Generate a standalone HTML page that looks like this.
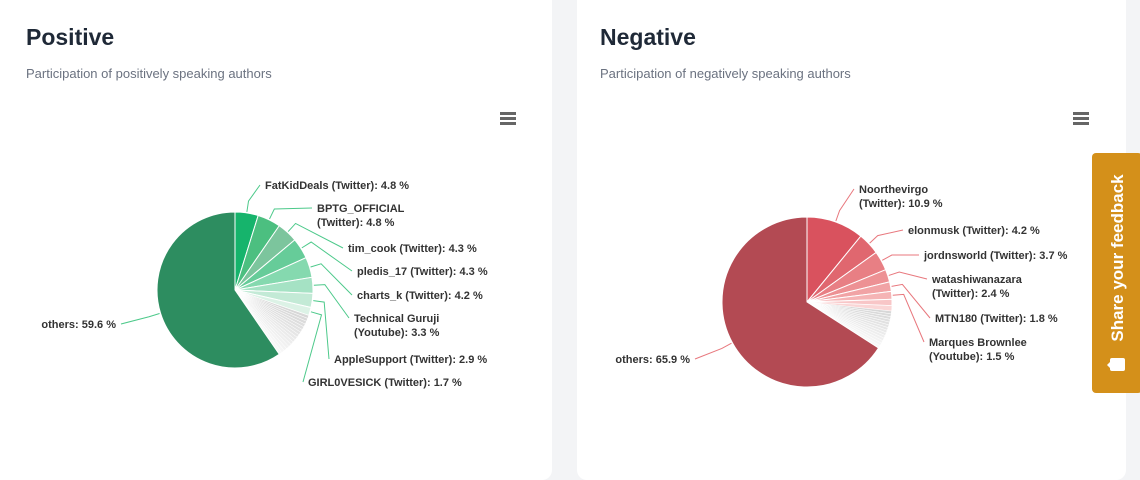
<!DOCTYPE html>
<html><head><meta charset="utf-8"><style>
body{margin:0;width:1140px;height:468px;background:#f3f4f6;font-family:"Liberation Sans",sans-serif;position:relative;overflow:hidden}
.card{position:absolute;top:-10px;height:490px;background:#fff;border-radius:10px}
.t{position:absolute;font-size:23px;font-weight:bold;color:#1f2937}
.s{position:absolute;font-size:13px;color:#6b7280}
.menu{position:absolute;width:16px;height:13px;border-top:3px solid #666;border-bottom:3px solid #666;box-sizing:border-box}
.menu:after{content:"";position:absolute;left:0;right:0;top:2px;border-top:3px solid #666}
svg{position:absolute;left:0;top:0}
svg text{font-family:"Liberation Sans",sans-serif;font-size:11px;font-weight:bold;fill:#333}
.fb{position:absolute;left:1092px;top:153px;width:50px;height:240px;background:#d4901a;border-radius:4px}
.fb span{position:absolute;left:26px;top:105px;transform:translate(-50%,-50%) rotate(-90deg);white-space:nowrap;color:#fff;font-weight:bold;font-size:17px}
.ic{position:absolute;left:1110px;top:358px;width:15px;height:13px;background:#fff;border-radius:2px}
.ic:after{content:"";position:absolute;left:-3px;top:4px;border:3px solid transparent;border-right-color:#fff;border-left:0}
</style></head><body>
<div class="card" style="left:-10px;width:562px"></div>
<div class="card" style="left:577px;width:549px"></div>
<div class="t" style="left:26px;top:24px">Positive</div>
<div class="s" style="left:26px;top:66px">Participation of positively speaking authors</div>
<div class="t" style="left:600px;top:24px">Negative</div>
<div class="s" style="left:600px;top:66px">Participation of negatively speaking authors</div>
<div class="menu" style="left:500px;top:112px"></div>
<div class="menu" style="left:1073px;top:112px"></div>
<svg id="sv" width="1140" height="468"></svg>
<div class="fb"><span>Share your feedback</span></div>
<div class="ic"></div>
<script>
const sv=document.getElementById('sv');const NS='http://www.w3.org/2000/svg';
function el(n,a,txt){const e=document.createElementNS(NS,n);for(const k in a)e.setAttribute(k,a[k]);if(txt)e.textContent=txt;sv.appendChild(e);return e;}
function pie(cx,cy,r,slices,lc){let a=0;const out=[];
slices.forEach(s=>{const a0=a,a1=a+s.v/100*2*Math.PI;a=a1;
const p=t=>[cx+r*Math.sin(t),cy-r*Math.cos(t)];const [x0,y0]=p(a0),[x1,y1]=p(a1);
el('path',{d:`M${cx},${cy}L${x0},${y0}A${r},${r} 0 ${a1-a0>Math.PI?1:0} 1 ${x1},${y1}Z`,fill:s.c,stroke:'#fff','stroke-width':s.v<1.2?0.5:1});
out.push((a0+a1)/2);});
slices.forEach((s,i)=>{if(!s.l)return;const m=out[i];const x=cx+(r+1)*Math.sin(m),y=cy-(r+1)*Math.cos(m);
const x2=cx+(r+12)*Math.sin(m),y2=cy-(r+12)*Math.cos(m);
const [lx,ly,anchor]=s.l;const ex=anchor==='end'?lx+5:lx-5;
el('path',{d:`M${x},${y}L${x2},${y2}L${ex},${ly}`,fill:'none',stroke:s.lc||lc,'stroke-width':1});
s.t.forEach((tt,j)=>el('text',{x:lx,y:ly+4+j*14,'text-anchor':anchor||'start'},tt));});}
function grays(n,tot,start){const a=[];for(let i=0;i<n;i++){const g=Math.round(start+i*(250-start)/n);a.push({v:tot/n,c:`rgb(${g},${g},${g})`});}return a;}
pie(235,290,78,[
{v:4.8,c:'#16b46c',l:[265,185],t:['FatKidDeals (Twitter): 4.8 %']},
{v:4.8,c:'#4cbf80',l:[317,208],t:['BPTG_OFFICIAL','(Twitter): 4.8 %']},
{v:4.3,c:'#7cc59d',l:[348,248],t:['tim_cook (Twitter): 4.3 %']},
{v:4.3,c:'#66cc99',l:[357,271],t:['pledis_17 (Twitter): 4.3 %']},
{v:4.2,c:'#85d9af',l:[357,295],t:['charts_k (Twitter): 4.2 %']},
{v:3.3,c:'#a5e2c4',l:[354,318],t:['Technical Guruji','(Youtube): 3.3 %']},
{v:2.9,c:'#c3ead6',l:[334,359],t:['AppleSupport (Twitter): 2.9 %']},
{v:1.7,c:'#dcf2e6',l:[308,382],t:['GIRL0VESICK (Twitter): 1.7 %']},
...grays(16,10.1,215),
{v:59.6,c:'#2d8d60',l:[116,324,'end'],t:['others: 59.6 %']}
],'#4cc98a');
pie(807,302,85,[
{v:10.9,c:'#d9525e',l:[859,189],t:['Noorthevirgo','(Twitter): 10.9 %']},
{v:4.2,c:'#e0676f',l:[908,230],t:['elonmusk (Twitter): 4.2 %']},
{v:3.7,c:'#e87f84',l:[924,255],t:['jordnsworld (Twitter): 3.7 %']},
{v:2.4,c:'#ed9194',l:[932,279],t:['watashiwanazara','(Twitter): 2.4 %']},
{v:1.8,c:'#f1a3a5',l:[935,318],t:['MTN180 (Twitter): 1.8 %']},
{v:1.5,c:'#f5b4b5',l:[929,342],t:['Marques Brownlee','(Youtube): 1.5 %']},
{v:1.2,c:'#f8c6c7'},{v:1.0,c:'#fad6d6'},
...grays(14,7.4,215),
{v:65.9,c:'#b34a53',l:[690,359,'end'],t:['others: 65.9 %']}
],'#e8777d');
</script>
</body></html>
